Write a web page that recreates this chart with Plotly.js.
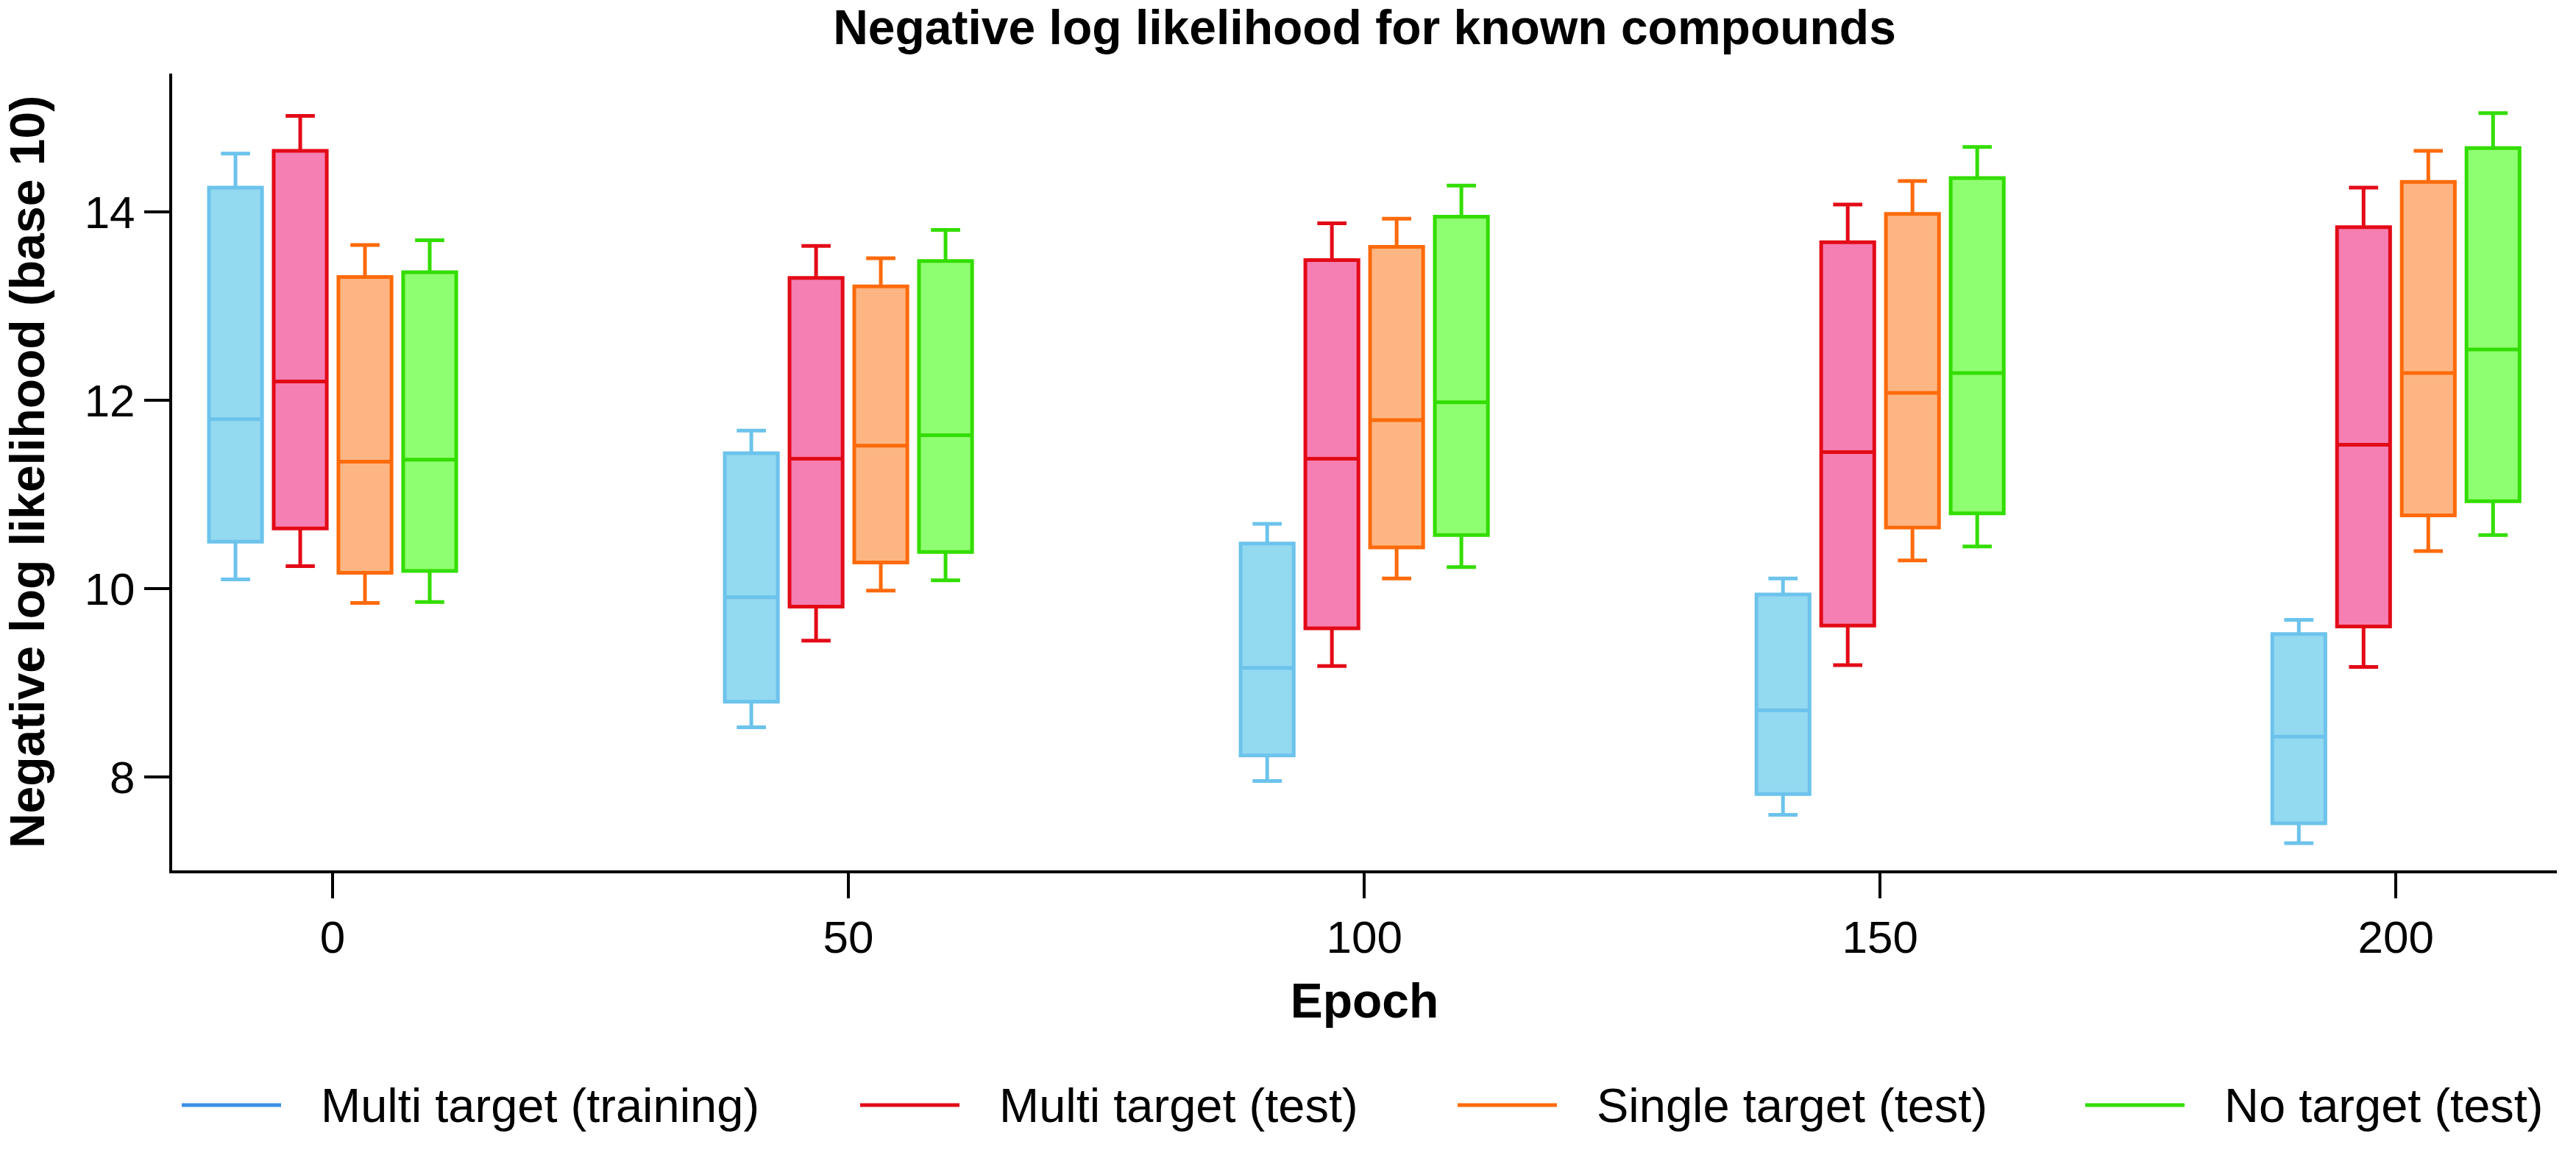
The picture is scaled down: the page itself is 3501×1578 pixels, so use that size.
<!DOCTYPE html>
<html>
<head>
<meta charset="utf-8">
<script src="https://cdn.plot.ly/plotly-3.0.1.min.js"></script>
<style>
  html, body { margin: 0; padding: 0; background: #fff; }
  #chart { width: 3501px; height: 1578px; }
</style>
</head>
<body>
<div id="chart"></div>
<script>
// Negative log likelihood per epoch, box stats
var epochs = ['0', '50', '100', '150', '200'];

var seriesNames = ['Multi target (training)', 'Multi target (test)', 'Single target (test)', 'No target (test)'];

// lower whisker, q1, median, q3, upper whisker per epoch
var trainLower  = [10.10, 8.53, 7.96, 7.60, 7.30];
var trainQ1     = [10.50, 8.80, 8.23, 7.82, 7.51];
var trainMedian = [11.80, 9.91, 9.16, 8.71, 8.43];
var trainQ3     = [14.26, 11.44, 10.48, 9.94, 9.52];
var trainUpper  = [14.62, 11.68, 10.69, 10.11, 9.67];

var multiLower  = [10.24, 9.45, 9.18, 9.19, 9.17];
var multiQ1     = [10.64, 9.81, 9.58, 9.61, 9.60];
var multiMedian = [12.20, 11.38, 11.38, 11.45, 11.53];
var multiQ3     = [14.65, 13.30, 13.49, 13.68, 13.84];
var multiUpper  = [15.02, 13.64, 13.88, 14.08, 14.26];

var singleLower  = [9.85, 9.98, 10.11, 10.30, 10.40];
var singleQ1     = [10.17, 10.28, 10.44, 10.65, 10.78];
var singleMedian = [11.35, 11.52, 11.79, 12.08, 12.29];
var singleQ3     = [13.31, 13.21, 13.63, 13.98, 14.32];
var singleUpper  = [13.65, 13.51, 13.93, 14.33, 14.65];

var noneLower  = [9.86, 10.09, 10.23, 10.45, 10.57];
var noneQ1     = [10.19, 10.39, 10.57, 10.80, 10.93];
var noneMedian = [11.37, 11.63, 11.98, 12.29, 12.54];
var noneQ3     = [13.36, 13.48, 13.95, 14.36, 14.68];
var noneUpper  = [13.70, 13.81, 14.28, 14.69, 15.05];

var lineColors   = ['#6cc3ec', '#e30a17', '#ff6a0a', '#33dd00'];
var fillColors   = ['#93d9f0', '#f57fb2', '#fdb683', '#8fff72'];
var legendColors = ['#3a8ee6', '#e30a17', '#ff6a0a', '#33dd00'];

var stats = [
    [trainLower, trainQ1, trainMedian, trainQ3, trainUpper],
    [multiLower, multiQ1, multiMedian, multiQ3, multiUpper],
    [singleLower, singleQ1, singleMedian, singleQ3, singleUpper],
    [noneLower, noneQ1, noneMedian, noneQ3, noneUpper]
];

var FONT = '"Liberation Sans", Arial, Helvetica, sans-serif';

var data = stats.map(function(s, i) {
    return {
        type: 'box',
        name: seriesNames[i],
        x: epochs,
        lowerfence: s[0],
        q1: s[1],
        median: s[2],
        q3: s[3],
        upperfence: s[4],
        boxpoints: false,
        whiskerwidth: 0.55,
        line: {color: lineColors[i], width: 5},
        fillcolor: fillColors[i],
        showlegend: false,
        hoverinfo: 'skip'
    };
});

// plot area in pixels, used to place the hand-drawn legend below it
var plotL = 234, plotR = 3475, plotT = 100, plotB = 1183;
function px(xp) { return (xp - plotL) / (plotR - plotL); }
function py(yp) { return (plotB - yp) / (plotB - plotT); }

var legendStarts = [247, 1169, 1981, 2834];
var legendLineLen = 135;
var legendTextGap = 52;
var legendY = 1502;

var shapes = [];
var annotations = [];
seriesNames.forEach(function(name, i) {
    shapes.push({
        type: 'line', xref: 'paper', yref: 'paper',
        x0: px(legendStarts[i]), x1: px(legendStarts[i] + legendLineLen),
        y0: py(legendY), y1: py(legendY),
        line: {color: legendColors[i], width: 5}
    });
    annotations.push({
        xref: 'paper', yref: 'paper',
        x: px(legendStarts[i] + legendLineLen + legendTextGap), y: py(legendY),
        xanchor: 'left', yanchor: 'middle',
        text: name, showarrow: false,
        font: {family: FONT, size: 65, color: '#000'}
    });
});

var layout = {
    width: 3501,
    height: 1578,
    margin: {l: plotL, r: 3501 - plotR, t: plotT, b: 1578 - plotB},
    paper_bgcolor: '#fff',
    plot_bgcolor: '#fff',
    font: {family: FONT, color: '#000'},
    title: {
        text: 'Negative log likelihood for known compounds',
        font: {family: FONT, size: 66, weight: 'bold', color: '#000'},
        x: 0.5, xref: 'paper', xanchor: 'center',
        y: 0.991, yref: 'container', yanchor: 'top'
    },
    boxmode: 'group',
    boxgap: 0.498,
    boxgroupgap: 0.18,
    showlegend: false,
    xaxis: {
        type: 'category',
        range: [-0.311, 4.312],
        showgrid: false,
        zeroline: false,
        showline: true,
        linecolor: '#000',
        linewidth: 4,
        ticks: 'outside',
        ticklen: 34,
        tickwidth: 4,
        tickcolor: '#000',
        tickfont: {family: FONT, size: 62, color: '#000'},
        title: {
            text: 'Epoch',
            font: {family: FONT, size: 66, weight: 'bold', color: '#000'},
            standoff: 30
        }
    },
    yaxis: {
        range: [7.01, 15.47],
        tickvals: [8, 10, 12, 14],
        showgrid: false,
        zeroline: false,
        showline: true,
        linecolor: '#000',
        linewidth: 4,
        ticks: 'outside',
        ticklen: 34,
        tickwidth: 4,
        tickcolor: '#000',
        tickfont: {family: FONT, size: 62, color: '#000'},
        title: {
            text: 'Negative log likelihood (base 10)',
            font: {family: FONT, size: 66, weight: 'bold', color: '#000'},
            standoff: 55
        }
    },
    shapes: shapes,
    annotations: annotations
};

Plotly.newPlot('chart', data, layout, {displayModeBar: false, staticPlot: true});
</script>
</body>
</html>
